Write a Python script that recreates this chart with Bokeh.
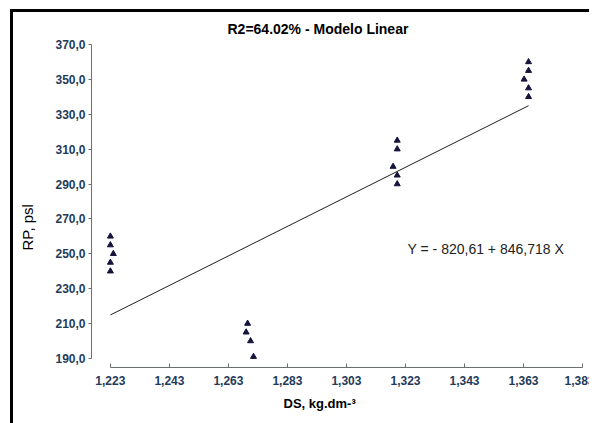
from bokeh.plotting import figure
from bokeh.layouts import column
from bokeh.models import Range1d, FixedTicker, Label, Title, ColumnDataSource
from bokeh.embed import file_html
from bokeh.resources import INLINE

# data
ds = [1.223, 1.223, 1.224, 1.223, 1.223,
      1.2695, 1.269, 1.2705, 1.2715,
      1.3202, 1.3202, 1.3188, 1.3202, 1.3202,
      1.3647, 1.3647, 1.3632, 1.3647, 1.3647]
rp = [260, 255, 250, 245, 240,
      210, 205, 200, 191,
      315, 310, 300, 295, 290,
      360, 355, 350, 345, 340]

intercept = -820.61
slope = 846.718
fit_x = [1.223, 1.3647]
fit_y = [intercept + slope * v for v in fit_x]

x_ticks = [1.223, 1.243, 1.263, 1.283, 1.303, 1.323, 1.343, 1.363, 1.383]
x_labels = ["1,223", "1,243", "1,263", "1,283", "1,303", "1,323", "1,343", "1,363", "1,383"]
y_ticks = [190, 210, 230, 250, 270, 290, 310, 330, 350, 370]
y_labels = ["190,0", "210,0", "230,0", "250,0", "270,0", "290,0", "310,0", "330,0", "350,0", "370,0"]

title_text = "R2=64.02%  -  Modelo  Linear"
x_title = "DS, kg.dm-\u00b3"
y_title = "RP, psl"
eq_text = "Y = - 820,61 + 846,718 X"

FONT = "Liberation Sans"
TICK_COLOR = "#1f3b5a"
AXIS_COLOR = "#6b7070"

p = figure(width=594, height=423, output_backend="svg", toolbar_location=None,
           x_range=Range1d(1.2166, 1.384), y_range=Range1d(184.8, 372.3),
           min_border_left=91, min_border_right=9, min_border_top=40, min_border_bottom=56)
p.outline_line_color = None
p.grid.visible = False
p.background_fill_color = "white"
p.border_fill_color = None

p.title.text = title_text
p.title.align = "left"
p.title.offset = 136
p.title.standoff = 8
p.title.text_font = FONT
p.title.text_font_size = "14px"
p.title.text_font_style = "bold"
p.title.text_color = "black"

for ax in (p.xaxis[0], p.yaxis[0]):
    ax.axis_line_color = AXIS_COLOR
    ax.major_tick_line_color = AXIS_COLOR
    ax.minor_tick_line_color = None
    ax.major_label_text_font = FONT
    ax.major_label_text_font_size = "12px"
    ax.major_label_text_font_style = "bold"
    ax.major_label_text_color = TICK_COLOR

p.xaxis.ticker = FixedTicker(ticks=x_ticks)
p.xaxis.major_label_overrides = dict(zip(x_ticks, x_labels))
p.xaxis.bounds = (x_ticks[0], x_ticks[-1])
p.xaxis.major_tick_in = 4
p.xaxis.major_tick_out = 0
p.xaxis.major_label_standoff = 8

p.yaxis.ticker = FixedTicker(ticks=y_ticks)
p.yaxis.major_label_overrides = dict(zip(y_ticks, y_labels))
p.yaxis.bounds = (y_ticks[0], y_ticks[-1])
p.yaxis.major_tick_in = 0
p.yaxis.major_tick_out = 3
p.yaxis.major_label_standoff = 3

xt = Title(text=x_title, align="left", offset=192, standoff=12,
           text_font=FONT, text_font_size="13px", text_font_style="bold", text_color="black")
p.add_layout(xt, "below")
yt = Title(text=y_title, align="left", offset=117, standoff=33,
           text_font=FONT, text_font_size="15px", text_font_style="normal", text_color="black")
p.add_layout(yt, "left")

p.line(fit_x, fit_y, line_color="#222222", line_width=1)
src = ColumnDataSource(dict(x=ds, y=rp))
p.scatter("x", "y", source=src, marker="triangle", size=6, fill_color="#14143c", line_color="#14143c")

p.add_layout(Label(x=1.3237, y=252.5, text=eq_text, text_baseline="middle",
                   text_font=FONT, text_font_size="14px", text_color="#222222"))

# black frame lines along the top and left of the picture
page = column(p, styles={"box-shadow": "inset 10px 9px 0 0 #ffffff, inset 13px 12px 0 0 #000000",
                         "overflow": "hidden", "clip-path": "inset(0px 5px 0px 0px)"})

open("out.html", "w").write(file_html(page, INLINE))
